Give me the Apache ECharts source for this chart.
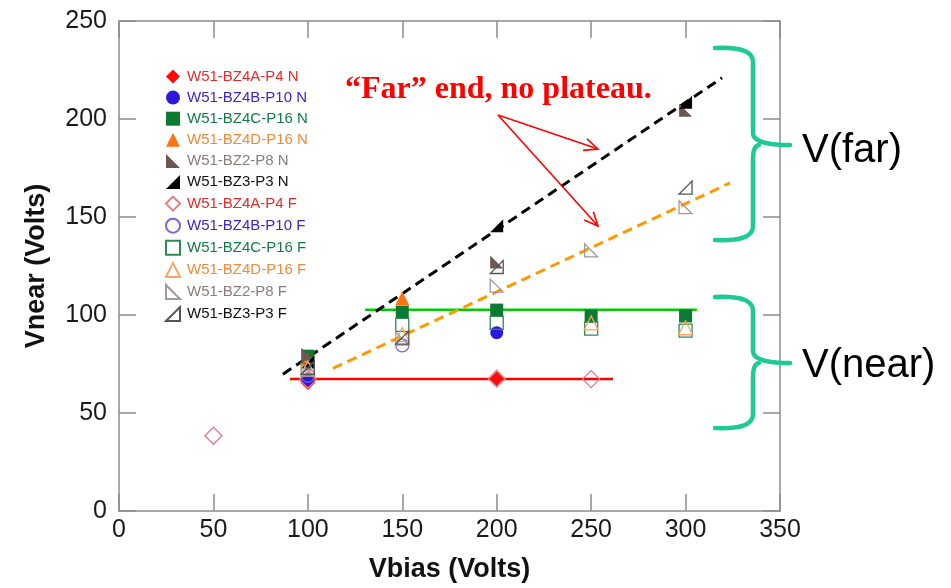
<!DOCTYPE html>
<html><head><meta charset="utf-8">
<script src="https://cdn.jsdelivr.net/npm/echarts/dist/echarts.min.js"></script>
<style>html,body{margin:0;padding:0;background:#fff}#c{width:951px;height:588px}</style>
</head><body><div id="c"></div>
<script>
// ---- data ----
const seriesNames = [
  'W51-BZ4A-P4 N','W51-BZ4B-P10 N','W51-BZ4C-P16 N','W51-BZ4D-P16 N','W51-BZ2-P8 N','W51-BZ3-P3 N',
  'W51-BZ4A-P4 F','W51-BZ4B-P10 F','W51-BZ4C-P16 F','W51-BZ4D-P16 F','W51-BZ2-P8 F','W51-BZ3-P3 F'
];
const bz4aN = [[100,65.5],[200,67.5]];
const bz4bN = [[100,67],[200,91]];
const bz4cN = [[100,79],[150,101.5],[200,102.5],[250,99.5],[300,99.5]];
const bz4dN = [[100,77],[150,108.5]];
const bz2N  = [[100,80],[200,127],[300,204.5]];
const bz3N  = [[100,76],[200,145.5],[300,208.5]];
const bz4aF = [[50,38.4],[100,67],[200,67.5],[250,67.3]];
const bz4bF = [[100,69],[150,84.5]];
const bz4cF = [[100,72],[150,95],[200,96],[250,93],[300,92]];
const bz4dF = [[100,73],[150,90],[250,96],[300,93.5]];
const bz2F  = [[100,72],[150,88],[200,115],[250,133],[300,155]];
const bz3F  = [[100,73],[150,88.5],[200,124.5],[300,165]];
// fit lines (endpoints)
const fitFarN  = [[86.8,69.8],[319.3,221]];
const fitFarF  = [[113.3,72.8],[323.5,167.4]];
const fitNearG = [[130.3,102.7],[306,102.7]];
const fitNearR = [[90.5,67.3],[261.6,67.3]];
const xTicks = {min:0, max:350, step:50};
const yTicks = {min:0, max:250, step:50};

// ---- styles ----
const LL = 'path://M0,0L0,10L10,10Z';
const LR = 'path://M10,0L10,10L0,10Z';
const styles = [
  {sym:'diamond', size:15, fill:'#ff0a0a', stroke:null, text:'#e52a2a'},
  {sym:'circle', size:13, fill:'#2a18dc', stroke:null, text:'#3a26c8'},
  {sym:'rect', size:13, fill:'#0c7a30', stroke:null, text:'#147a44'},
  {sym:'triangle', size:14, fill:'#ff7412', stroke:null, text:'#ee8a3a'},
  {sym:LL, size:13, fill:'#6e5652', stroke:null, text:'#8a7c7c'},
  {sym:LR, size:13, fill:'#000000', stroke:null, text:'#111111'},
  {sym:'diamond', size:17, fill:null, stroke:'#e07c86', text:'#e52a2a'},
  {sym:'circle', size:13, fill:null, stroke:'#7a66d4', text:'#3a26c8'},
  {sym:'rect', size:13, fill:null, stroke:'#2e8a52', text:'#147a44'},
  {sym:'triangle', size:14, fill:null, stroke:'#f2a566', text:'#ee8a3a'},
  {sym:LL, size:13, fill:null, stroke:'#a49a9a', text:'#8a7c7c'},
  {sym:LR, size:13, fill:null, stroke:'#555555', text:'#111111'}
];
const dataSets = [bz4aN,bz4bN,bz4cN,bz4dN,bz2N,bz3N,bz4aF,bz4bF,bz4cF,bz4dF,bz2F,bz3F];

const series = [];
function fit(data, color, dashed){
  series.push({type:'line', data:data, symbol:'none', silent:true, z:1,
    lineStyle:{color:color, width:dashed?3:2.5, type:dashed?[10,6]:'solid'}});
}
fit(fitNearR,'#ff0000',false);
fit(fitNearG,'#00cc00',false);
fit(fitFarF,'#ff9900',true);
fit(fitFarN,'#000000',true);
seriesNames.forEach((n,i)=>{
  const s = styles[i];
  series.push({type:'scatter', name:n, data:dataSets[i], symbol:s.sym, symbolSize:s.size, z:3,
    itemStyle: s.fill ? {color:s.fill, opacity:1} : {color:'rgba(255,255,255,0)', borderColor:s.stroke, borderWidth:1.3, opacity:1}
  });
});

const axisGray = '#8c8c8c';
function axisBase(t, pos, show){
  return {type:'value', min:t.min, max:t.max, interval:t.step, position:pos,
    axisLine:{show:true, onZero:false, lineStyle:{color:axisGray, width:1.5}},
    axisTick:{show:true, inside:true, length:17, lineStyle:{color:axisGray, width:1.5}},
    splitLine:{show:false},
    axisLabel:{show:show, fontSize:25, color:'#1a1a1a', fontFamily:'Liberation Sans, Arial', margin:12}
  };
}
const titleStyle = {fontSize:27, fontWeight:'bold', color:'#111', fontFamily:'Liberation Sans, Arial'};
const xMain = Object.assign(axisBase(xTicks,'bottom',true), {name:'Vbias (Volts)', nameLocation:'middle', nameGap:45, nameTextStyle:titleStyle});
xMain.axisLabel.margin = 7;
const yMain = Object.assign(axisBase(yTicks,'left',true), {name:'Vnear (Volts)', nameLocation:'middle', nameGap:69, nameTextStyle:titleStyle});

const chart = echarts.init(document.getElementById('c'), null, {renderer:'canvas'});
chart.setOption({
  animation:false,
  backgroundColor:'#ffffff',
  grid:{left:119, right:171, top:21, bottom:73, containLabel:false},
  xAxis:[xMain, axisBase(xTicks,'top',false)],
  yAxis:[yMain, axisBase(yTicks,'right',false)],
  legend:{orient:'vertical', left:160, top:64, itemWidth:14, itemHeight:14, itemGap:6.1,
    selectedMode:false, textStyle:{fontSize:15, fontFamily:'Liberation Sans, Arial', padding:[0,0,0,2]},
    data: seriesNames.map((n,i)=>({name:n, textStyle:{color:styles[i].text}}))},
  series: series
});

// ---- annotations ----
const teal = '#1fc996';
function qpts(p0, c, p1, n){
  const out = [];
  for (let k=0;k<=n;k++){ const t=k/n, u=1-t;
    out.push([u*u*p0[0]+2*u*t*c[0]+t*t*p1[0], u*u*p0[1]+2*u*t*c[1]+t*t*p1[1]]); }
  return out;
}
function brace(top, mid, bot){
  const xL = 715, xV = 753, xT = 790;
  const upper = [].concat(
    qpts([xL,top],[xV,top-2],[xV,top+14],10),
    qpts([xV,mid-12],[xV,mid],[xT,mid],10));
  const lower = [].concat(
    qpts([xV+6,mid],[xV,mid+1],[xV,mid+14],8),
    qpts([xV,bot-14],[xV,bot+2],[xL,bot],10));
  const st = {stroke:teal, lineWidth:4.5, fill:null, lineCap:'round', lineJoin:'round'};
  return [
    {type:'polyline', shape:{points:upper}, style:st, z:10},
    {type:'polyline', shape:{points:lower}, style:st, z:10}
  ];
}
function arrow(x0,y0,x1,y1){
  const a = Math.atan2(y1-y0, x1-x0), L = 15, h = 0.42;
  const p1 = [x1 - L*Math.cos(a-h), y1 - L*Math.sin(a-h)];
  const p2 = [x1 - L*Math.cos(a+h), y1 - L*Math.sin(a+h)];
  return [
    {type:'line', shape:{x1:x0,y1:y0,x2:x1,y2:y1}, style:{stroke:'#ff0000', lineWidth:1.6}, z:10},
    {type:'polyline', shape:{points:[p1,[x1,y1],p2]}, style:{stroke:'#ff0000', lineWidth:1.6, fill:null}, z:10}
  ];
}
chart.setOption({graphic:[
  ...brace(48,145,240),
  ...brace(297,363,428),
  {type:'text', left:802, top:131, style:{text:'V(far)', fontSize:40, fill:'#000', fontFamily:'Liberation Sans, Arial'}, z:10},
  {type:'text', left:802, top:346, style:{text:'V(near)', fontSize:40, fill:'#000', fontFamily:'Liberation Sans, Arial'}, z:10},
  {type:'text', left:345, top:74, style:{text:'\u201CFar\u201D end, no plateau.', fontSize:32, fontWeight:'bold', fill:'#ff0000', fontFamily:'Liberation Serif, Times New Roman, serif'}, z:10},
  ...arrow(498,115,598,149),
  ...arrow(498,115,598,226)
]});
</script></body></html>
